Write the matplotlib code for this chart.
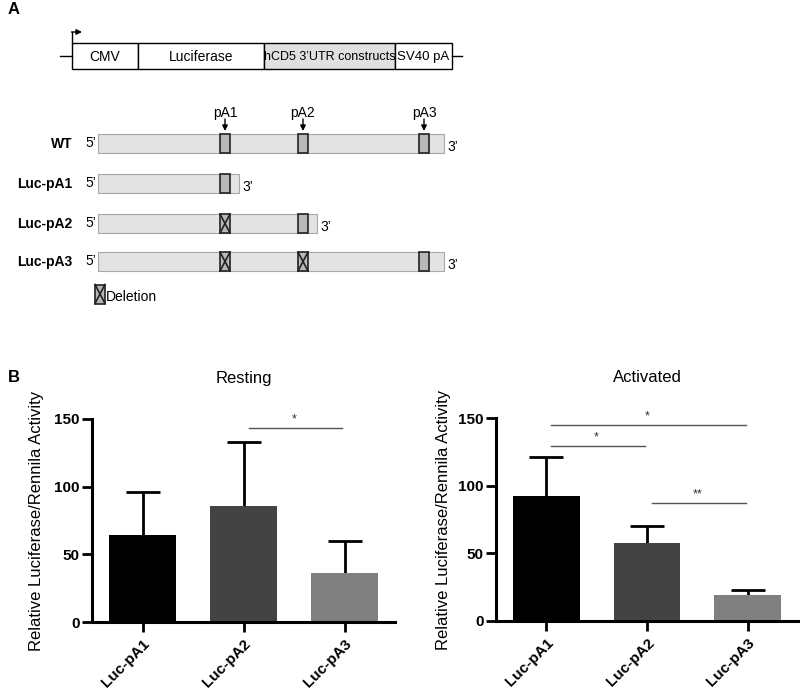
import numpy as np
import matplotlib.pyplot as plt
from matplotlib.patches import Rectangle

plt.rcParams['font.family'] = ['Liberation Sans', 'DejaVu Sans']

# ---- data -------------------------------------------------------------
groups = ['Luc-pA1', 'Luc-pA2', 'Luc-pA3']
bar_colors = ['#000000', '#434343', '#808080']
resting_mean = [64, 86, 36.5]
resting_err = [32, 47, 23.5]
activated_mean = [92, 58, 19.5]
activated_err = [29, 12.5, 3.5]

# significance brackets: (i, j, height, label)
resting_sig = [(1, 2, 143.5, '*')]
activated_sig = [(0, 2, 144.5, '*'), (0, 1, 129, '*'), (1, 2, 87, '**')]

# schematic (panel A), in pixel-like units
vector_parts = ['CMV', 'Luciferase', 'hCD5 3\u2019UTR constructs', 'SV40 pA']
vector_sizes = [10, 10, 9, 9.5]
vector_edges = [72, 138, 264, 395, 452]
site_names = ['pA1', 'pA2', 'pA3']
site_pos = [225, 303, 424]
construct_names = ['WT', 'Luc-pA1', 'Luc-pA2', 'Luc-pA3']
construct_end = [444, 239, 317, 444]
construct_sites = [[0, 1, 2], [0], [0, 1], [0, 1, 2]]
construct_deleted = [[], [], [0], [0, 1]]
construct_y = [143.5, 183.5, 223.5, 261.5]
utr_start = 98

fig = plt.figure(figsize=(8, 6.94), dpi=100)

# ---- panel A ---------------------------------------------------------
axA = fig.add_axes([0, 0, 1, 1])
axA.set_xlim(0, 800)
axA.set_ylim(694, 0)
axA.axis('off')

fig.text(8 / 800, 1 - 10 / 694, 'A', fontsize=12, fontweight='bold', va='center')
fig.text(8 / 800, 1 - 378 / 694, 'B', fontsize=12, fontweight='bold', va='center')

y0, y1 = 43, 69
axA.plot([60, vector_edges[0]], [56, 56], color='black', lw=1)
axA.plot([vector_edges[-1], 462], [56, 56], color='black', lw=1)
for k, name in enumerate(vector_parts):
    xa, xb = vector_edges[k], vector_edges[k + 1]
    fc = '#e0e0e0' if k == 2 else 'white'
    axA.add_patch(Rectangle((xa, y0), xb - xa, y1 - y0, fc=fc, ec='black', lw=1))
    axA.text((xa + xb) / 2, 56.5, name, ha='center', va='center', fontsize=vector_sizes[k])
# promoter arrow
axA.plot([72, 72], [y0, 32], color='black', lw=1)
axA.annotate('', xy=(82, 32), xytext=(71.5, 32),
             arrowprops=dict(arrowstyle='-|>', color='black', lw=1, mutation_scale=8,
                             shrinkA=0, shrinkB=0))

# site labels and arrows
for name, xp in zip(site_names, site_pos):
    axA.text(xp, 113, name, ha='center', va='center', fontsize=10)
    axA.annotate('', xy=(xp, 131), xytext=(xp, 119),
                 arrowprops=dict(arrowstyle='-|>', color='black', lw=1, mutation_scale=8,
                                 shrinkA=0, shrinkB=0))

h = 19
bw = 10
for name, end, sites, dels, yc in zip(construct_names, construct_end, construct_sites,
                                      construct_deleted, construct_y):
    axA.add_patch(Rectangle((utr_start, yc - h / 2), end - utr_start, h,
                            fc='#e3e3e3', ec='#a8a8a8', lw=0.8))
    axA.text(72, yc, name, ha='right', va='center', fontsize=10, fontweight='bold')
    axA.text(utr_start - 2, yc - 1, '5\u2019', ha='right', va='center', fontsize=10)
    axA.text(end + 3, yc + 3, '3\u2019', ha='left', va='center', fontsize=10)
    for s in sites:
        xp = site_pos[s]
        axA.add_patch(Rectangle((xp - bw / 2, yc - h / 2), bw, h,
                                fc='#b8b8b8', ec='#222222', lw=1.2))
        if s in dels:
            axA.plot([xp - bw / 2, xp + bw / 2], [yc - h / 2, yc + h / 2], color='#222222', lw=1.2)
            axA.plot([xp - bw / 2, xp + bw / 2], [yc + h / 2, yc - h / 2], color='#222222', lw=1.2)

# legend for deletion
xp, yc = 100, 294
axA.add_patch(Rectangle((xp - bw / 2, yc - h / 2), bw, h, fc='#b8b8b8', ec='#222222', lw=1.2))
axA.plot([xp - bw / 2, xp + bw / 2], [yc - h / 2, yc + h / 2], color='#222222', lw=1.2)
axA.plot([xp - bw / 2, xp + bw / 2], [yc + h / 2, yc - h / 2], color='#222222', lw=1.2)
axA.text(xp + 6, yc + 3, 'Deletion', ha='left', va='center', fontsize=10)


# ---- panel B ---------------------------------------------------------
def bar_panel(ax, means, errs, sigs, title):
    x = np.arange(len(groups))
    ax.bar(x, means, width=0.66, color=bar_colors, zorder=2)
    eb = ax.errorbar(x, means, yerr=[np.zeros(len(errs)), errs], fmt='none', ecolor='black',
                     elinewidth=2, capsize=12, capthick=2, zorder=1)
    eb[1][0].set_visible(False)  # hide lower caps
    ax.set_xlim(-0.5, 2.5)
    ax.set_ylim(0, 150)
    ax.set_yticks([0, 50, 100, 150])
    ax.set_xticks(x)
    ax.set_xticklabels(groups, rotation=45, ha='right', rotation_mode='anchor',
                       fontsize=11, fontweight='bold')
    for lab in ax.get_yticklabels():
        lab.set_fontweight('bold')
        lab.set_fontsize(11)
    ax.tick_params(axis='both', width=2, length=7, pad=2)
    ax.tick_params(axis='x', pad=4)
    for side in ['top', 'right']:
        ax.spines[side].set_visible(False)
    for side in ['left', 'bottom']:
        ax.spines[side].set_linewidth(2.2)
    ax.set_ylabel('Relative Luciferase/Rennila Activity', fontsize=12)
    ax.set_title(title, fontsize=12, pad=26)
    for i, j, yv, lab in sigs:
        ax.plot([i + 0.05, j - 0.02], [yv, yv], color='#555555', lw=1, clip_on=False)
        ax.text((i + j) / 2, yv + 2, lab, ha='center', va='bottom', fontsize=9,
                color='#333333', clip_on=False)


axL = fig.add_axes([92 / 800, 1 - 622 / 694, 303 / 800, 203 / 694])
bar_panel(axL, resting_mean, resting_err, resting_sig, 'Resting')
axL.yaxis.set_label_coords(-0.16, 0.5)

axR = fig.add_axes([496 / 800, 1 - 621 / 694, 302 / 800, 203 / 694])
bar_panel(axR, activated_mean, activated_err, activated_sig, 'Activated')
axR.yaxis.set_label_coords(-0.15, 0.5)

plt.savefig('out.png', dpi=100)
